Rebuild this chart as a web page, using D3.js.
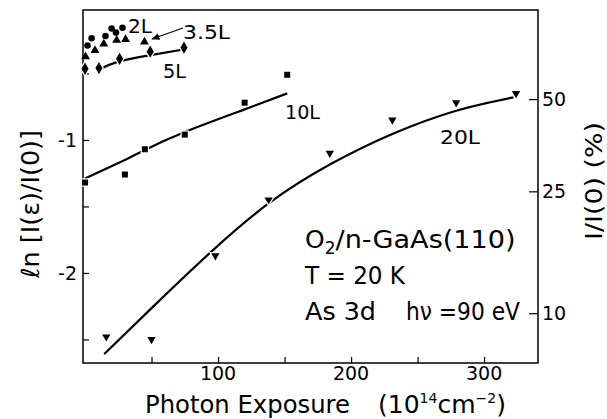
<!DOCTYPE html>
<html><head><meta charset="utf-8">
<script src="https://cdn.jsdelivr.net/npm/d3@7"></script>
<style>body{margin:0;background:#fff}svg{display:block}text{font-family:"DejaVu Sans",sans-serif;fill:#000}</style>
</head><body>
<script>
// ---- data (x: photon exposure, 1e14 cm^-2 ; y: ln[I(e)/I(0)]) ----
const s2L_x = [1.9, 5, 15.4, 20, 23.3, 28.2];
const s2L_y = [-0.29, -0.235, -0.218, -0.162, -0.192, -0.156];
const s35L_x = [0.4, 7.5, 14.1, 23.8, 30.5, 44.7];
const s35L_y = [-0.374, -0.327, -0.278, -0.25, -0.244, -0.263];
const s5L_x = [0, 10.5, 26, 49, 74.4];
const s5L_y = [-0.465, -0.46, -0.39, -0.336, -0.306];
const s10L_x = [0, 30, 45, 75, 120, 152];
const s10L_y = [-1.32, -1.26, -1.07, -0.96, -0.72, -0.51];
const s20L_x = [16, 50, 98, 138, 184, 231, 279, 324];
const s20L_y = [-2.48, -2.50, -1.87, -1.45, -1.10, -0.85, -0.72, -0.65];
// fitted curves
const fit5L_x = [10.5, 24, 47, 74];
const fit5L_y = [-0.47, -0.415, -0.366, -0.32];
const fit10L_x = [0, 30, 45, 75, 120, 152];
const fit10L_y = [-1.29, -1.15, -1.075, -0.94, -0.77, -0.65];
const fit20L_x = [14.5, 51, 96, 139, 184, 231, 279, 322];
const fit20L_y = [-2.61, -2.255, -1.83, -1.47, -1.185, -0.955, -0.78, -0.68];
const xTicks = [50, 100, 150, 200, 250, 300];
const xTickLabels = ["", "100", "", "200", "", "300"];
const yTicks = [-0.5, -1, -1.5, -2, -2.5];
const yTickLabels = ["", "-1", "", "-2", ""];
const rightTicks = [50, 25, 10]; // percent

const W = 607, H = 419;
const svg = d3.select("body").append("svg").attr("width", W).attr("height", H);
const x = d3.scaleLinear().domain([-1.5, 340.5]).range([83, 538]);
const y = d3.scaleLinear().domain([-0.023, -2.677]).range([10, 363]);

// frame
svg.append("rect").attr("x", 83).attr("y", 10).attr("width", 455).attr("height", 353)
  .attr("fill", "none").attr("stroke", "#000").attr("stroke-width", 1.5);

// axes with inward ticks
const gx = svg.append("g").attr("transform", "translate(0,363)")
  .call(d3.axisTop(x).tickValues(xTicks).tickSize(6).tickFormat(""));
gx.select(".domain").remove();
svg.append("g").selectAll("text").data(xTicks).join("text")
  .attr("x", d => x(d)).attr("y", 380).attr("text-anchor", "middle")
  .attr("font-size", 19).text((d, i) => xTickLabels[i]);

const gy = svg.append("g").attr("transform", "translate(83,0)")
  .call(d3.axisRight(y).tickValues(yTicks).tickSize(6).tickFormat(""));
gy.select(".domain").remove();
svg.append("g").selectAll("text").data(yTicks).join("text")
  .attr("x", 77).attr("y", d => y(d)).attr("dy", "0.36em").attr("text-anchor", "end")
  .attr("font-size", 19).text((d, i) => yTickLabels[i]);

const gr = svg.append("g").attr("transform", "translate(538,0)")
  .call(d3.axisLeft(y).tickValues(rightTicks.map(p => Math.log(p / 100))).tickSize(9).tickFormat(""));
gr.select(".domain").remove();
svg.append("g").selectAll("text").data(rightTicks).join("text")
  .attr("x", 542).attr("y", d => y(Math.log(d / 100))).attr("dy", "0.36em")
  .attr("font-size", 19).text(d => d);
svg.selectAll(".tick line").attr("stroke", "#000").attr("stroke-width", 1.2);

// fitted lines
const line = d3.line().x(d => x(d[0])).y(d => y(d[1])).curve(d3.curveNatural);
function fit(xs, ys) {
  svg.append("path").datum(xs.map((v, i) => [v, ys[i]])).attr("d", line)
    .attr("fill", "none").attr("stroke", "#000").attr("stroke-width", 2.2);
}
fit(fit5L_x, fit5L_y);
fit(fit10L_x, fit10L_y);
fit(fit20L_x, fit20L_y);

// markers
function marks(xs, ys, type, size, halo) {
  const sym = d3.symbol().type(type).size(size);
  svg.append("g").selectAll("path").data(xs.map((v, i) => [v, ys[i]])).join("path")
    .attr("transform", d => `translate(${x(d[0])},${y(d[1])})`)
    .attr("d", sym).attr("fill", "#000")
    .attr("stroke", halo ? "#fff" : "none").attr("stroke-width", halo ? 2.5 : 0)
    .attr("paint-order", "stroke");
}
marks(s2L_x, s2L_y, d3.symbolCircle, 34, false);
marks(s35L_x, s35L_y, d3.symbolTriangle, 34, false);
marks(s5L_x, s5L_y, d3.symbolDiamond, 44, true);
marks(s10L_x, s10L_y, d3.symbolSquare, 36, true);
const triDown = { draw(ctx, size) { const s = Math.sqrt(size / 0.433); const h = s * 0.866;
  ctx.moveTo(-s / 2, -h / 3); ctx.lineTo(s / 2, -h / 3); ctx.lineTo(0, 2 * h / 3); ctx.closePath(); } };
marks(s20L_x, s20L_y, triDown, 30, true);

// series labels
const lab = (t, xx, yy, len) => svg.append("text").attr("x", xx).attr("y", yy).attr("font-size", 20)
  .attr("textLength", len).attr("lengthAdjust", "spacingAndGlyphs").text(t);
lab("2L", 128, 33, 24);
lab("3.5L", 183, 39, 47);
lab("5L", 163, 78, 23);
lab("10L", 285, 119, 35);
lab("20L", 440, 144, 40);
// arrow 3.5L
svg.append("defs").append("marker").attr("id", "ah").attr("viewBox", "0 0 10 10")
  .attr("refX", 9).attr("refY", 5).attr("markerWidth", 7).attr("markerHeight", 7)
  .attr("orient", "auto").append("path").attr("d", "M0,1L10,5L0,9z").attr("fill", "#000");
svg.append("line").attr("x1", 183).attr("y1", 28).attr("x2", 152).attr("y2", 39)
  .attr("stroke", "#000").attr("stroke-width", 1.2).attr("marker-end", "url(#ah)");

// annotation
const t1 = svg.append("text").attr("x", 305).attr("y", 248).attr("font-size", 25);
t1.append("tspan").text("O");
t1.append("tspan").attr("font-size", 17).attr("dy", 6).text("2");
t1.append("tspan").attr("dy", -6).attr("textLength", 180).attr("lengthAdjust", "spacingAndGlyphs").text("/n-GaAs(110)");
svg.append("text").attr("x", 305).attr("y", 284).attr("font-size", 25)
  .attr("textLength", 100).attr("lengthAdjust", "spacingAndGlyphs").text("T = 20 K");
svg.append("text").attr("x", 305).attr("y", 320).attr("font-size", 25)
  .attr("textLength", 71).attr("lengthAdjust", "spacingAndGlyphs").text("As 3d");
svg.append("text").attr("x", 406).attr("y", 320).attr("font-size", 25)
  .attr("textLength", 114).attr("lengthAdjust", "spacingAndGlyphs").text("hν =90 eV");

// axis titles
const xt = svg.append("text").attr("x", 145).attr("y", 413).attr("font-size", 25);
xt.append("tspan").attr("textLength", 205).attr("lengthAdjust", "spacingAndGlyphs").text("Photon Exposure");
xt.append("tspan").attr("x", 378).text("(10");
xt.append("tspan").attr("font-size", 14).attr("dy", -10).text("14");
xt.append("tspan").attr("dy", 10).text("cm");
xt.append("tspan").attr("font-size", 14).attr("dy", -10).text("−2");
xt.append("tspan").attr("dy", 10).text(")");

svg.append("text").attr("transform", "translate(39,204) rotate(-90)").attr("text-anchor", "middle")
  .attr("font-size", 25).attr("textLength", 148).attr("lengthAdjust", "spacingAndGlyphs")
  .text("ℓn [I(ε)/I(0)]");
svg.append("text").attr("transform", "translate(602,181) rotate(-90)").attr("text-anchor", "middle")
  .attr("font-size", 23).attr("textLength", 118).attr("lengthAdjust", "spacingAndGlyphs")
  .text("I/I(0) (%)");
</script>
</body></html>
